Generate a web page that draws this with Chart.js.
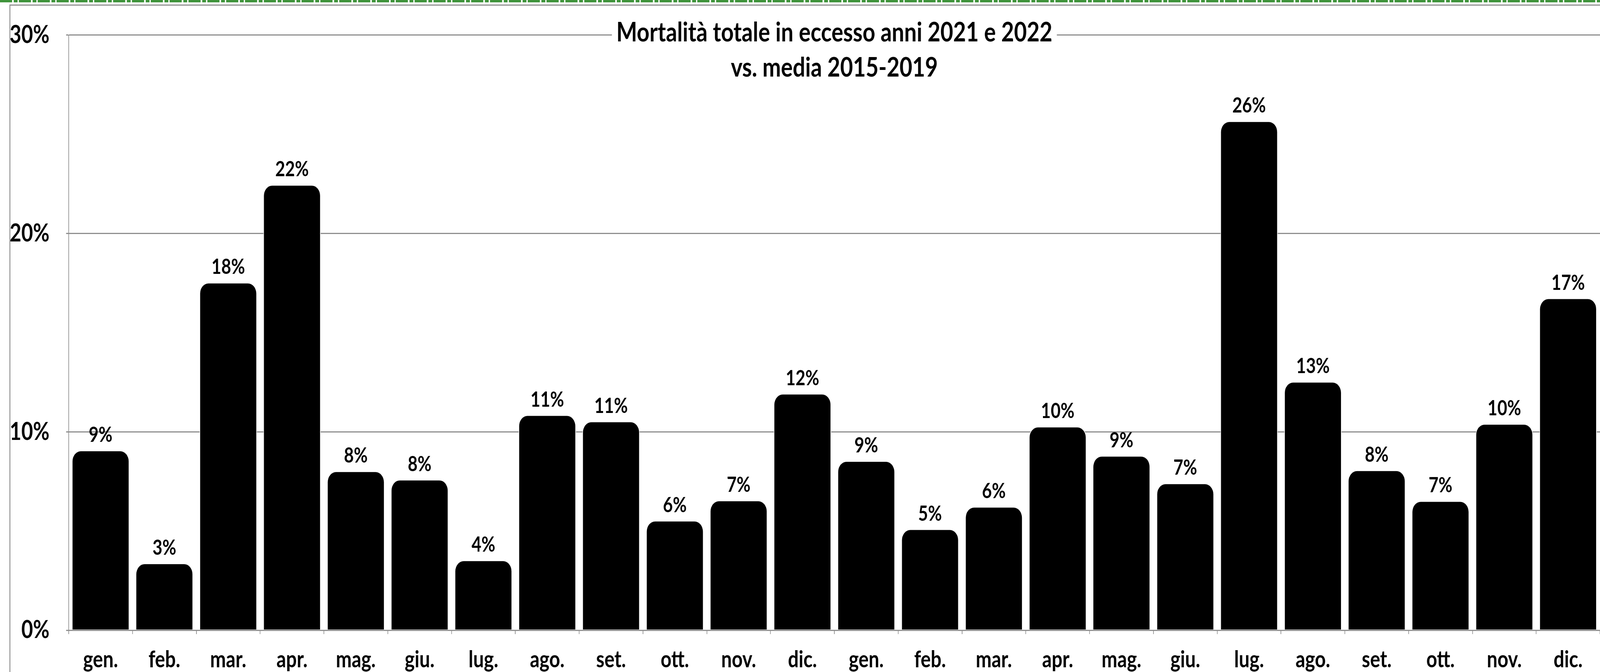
<!DOCTYPE html>
<html>
<head>
<meta charset="utf-8">
<title>Mortalità totale in eccesso</title>
<script src="https://cdn.jsdelivr.net/npm/chart.js@4.4.1/dist/chart.umd.min.js"></script>
<style>
  html, body { margin: 0; padding: 0; background: #fff; overflow: hidden; }
  canvas { position: absolute; left: 0; top: 0; }
</style>
</head>
<body>
<canvas id="excess-chart" width="5009" height="1720"></canvas>
<script>
const months = ['gen.', 'feb.', 'mar.', 'apr.', 'mag.', 'giu.', 'lug.', 'ago.', 'set.', 'ott.', 'nov.', 'dic.'];
const categories = months.concat(months);
// excess mortality % vs 2015-2019 average
const excess2021 = [9.06, 3.37, 17.52, 22.45, 8.01, 7.59, 3.52, 10.84, 10.52, 5.52, 6.54, 11.92];
const excess2022 = [8.53, 5.09, 6.22, 10.26, 8.79, 7.40, 25.66, 12.52, 8.06, 6.51, 10.40, 16.73];
const excessValues = excess2021.concat(excess2022);
const titleLines = ['Mortalità totale in eccesso anni 2021 e 2022', 'vs. media 2015-2019'];
const yTicks = [0, 10, 20, 30];

const fontFamily = "Lato, 'Noto Sans', sans-serif";

// the chart is drawn on a fixed 5009x1720 bitmap, stretched over the window
const canvas = document.getElementById('excess-chart');
canvas.style.width = '100vw';
canvas.style.height = '100vh';

const frame = {
  id: 'frame',
  beforeDraw(chart) {
    const ctx = chart.ctx;
    ctx.save();
    ctx.fillStyle = '#fff';
    ctx.fillRect(0, 0, chart.width, chart.height);
    // green strip along the top edge
    ctx.strokeStyle = '#3f933b';
    ctx.lineWidth = 6;
    ctx.setLineDash([38, 5, 12, 4]);
    ctx.beginPath();
    ctx.moveTo(0, 3);
    ctx.lineTo(chart.width, 3);
    ctx.stroke();
    // chart-area border, top and left
    ctx.setLineDash([]);
    ctx.strokeStyle = '#8f8f8f';
    ctx.lineWidth = 3;
    ctx.beginPath();
    ctx.moveTo(31, chart.height);
    ctx.lineTo(31, 13);
    ctx.lineTo(chart.width, 13);
    ctx.stroke();
    ctx.restore();
  }
};

const barLabels = {
  id: 'barLabels',
  afterDatasetsDraw(chart) {
    const ctx = chart.ctx;
    const meta = chart.getDatasetMeta(0);
    ctx.save();
    ctx.font = 'bold 53px ' + fontFamily;
    ctx.fillStyle = '#000';
    ctx.textAlign = 'center';
    ctx.textBaseline = 'alphabetic';
    meta.data.forEach((bar, i) => {
      const v = chart.data.datasets[0].data[i];
      ctx.fillText(Math.round(v) + '%', bar.x, bar.y - 22);
    });
    ctx.restore();
  }
};

const boxedTitle = {
  id: 'boxedTitle',
  afterDraw(chart) {
    const ctx = chart.ctx;
    const area = chart.chartArea;
    const cx = (area.left + area.right) / 2;
    ctx.save();
    ctx.font = 'bold 69px ' + fontFamily;
    const w = Math.max(...titleLines.map(t => ctx.measureText(t).width));
    ctx.fillStyle = '#fff';
    ctx.fillRect(cx - w / 2 - 14, 45, w + 28, 160);
    ctx.fillStyle = '#000';
    ctx.textAlign = 'center';
    ctx.textBaseline = 'middle';
    ctx.fillText(titleLines[0], cx, 84);
    ctx.fillText(titleLines[1], cx, 174);
    ctx.restore();
  }
};

new Chart(canvas.getContext('2d'), {
  type: 'bar',
  data: {
    labels: categories,
    datasets: [{
      label: 'eccesso',
      data: excessValues,
      backgroundColor: '#000',
      borderColor: '#fff',
      borderWidth: 2,
      borderRadius: { topLeft: 28, topRight: 28, bottomLeft: 0, bottomRight: 0 },
      borderSkipped: 'start',
      barPercentage: 0.9,
      categoryPercentage: 1.0
    }]
  },
  options: {
    responsive: false,
    animation: false,
    devicePixelRatio: 1,
    layout: { padding: { left: 0, top: 83, right: 0, bottom: 0 } },
    plugins: {
      legend: { display: false },
      title: { display: false },
      tooltip: { enabled: false }
    },
    scales: {
      x: {
        offset: true,
        grid: { offset: true, drawOnChartArea: false, drawTicks: true, tickLength: 10, color: '#8f8f8f', lineWidth: 2 },
        border: { display: true, color: '#8f8f8f', width: 3 },
        ticks: { color: '#000', padding: 31, font: { family: fontFamily, size: 59, weight: 'bold' }, maxRotation: 0, autoSkip: false },
        afterFit(scale) { scale.height = 107; }
      },
      y: {
        min: 0,
        max: 30,
        afterBuildTicks(scale) { scale.ticks = yTicks.map(v => ({ value: v })); },
        grid: { color: '#8f8f8f', lineWidth: 3, tickLength: 8 },
        border: { display: true, color: '#8f8f8f', width: 2 },
        ticks: {
          color: '#000',
          padding: 52,
          font: { family: fontFamily, size: 63, weight: 'bold' },
          callback: v => v + '%'
        },
        afterFit(scale) { scale.width = 215; }
      }
    }
  },
  plugins: [frame, barLabels, boxedTitle]
});
</script>
</body>
</html>
